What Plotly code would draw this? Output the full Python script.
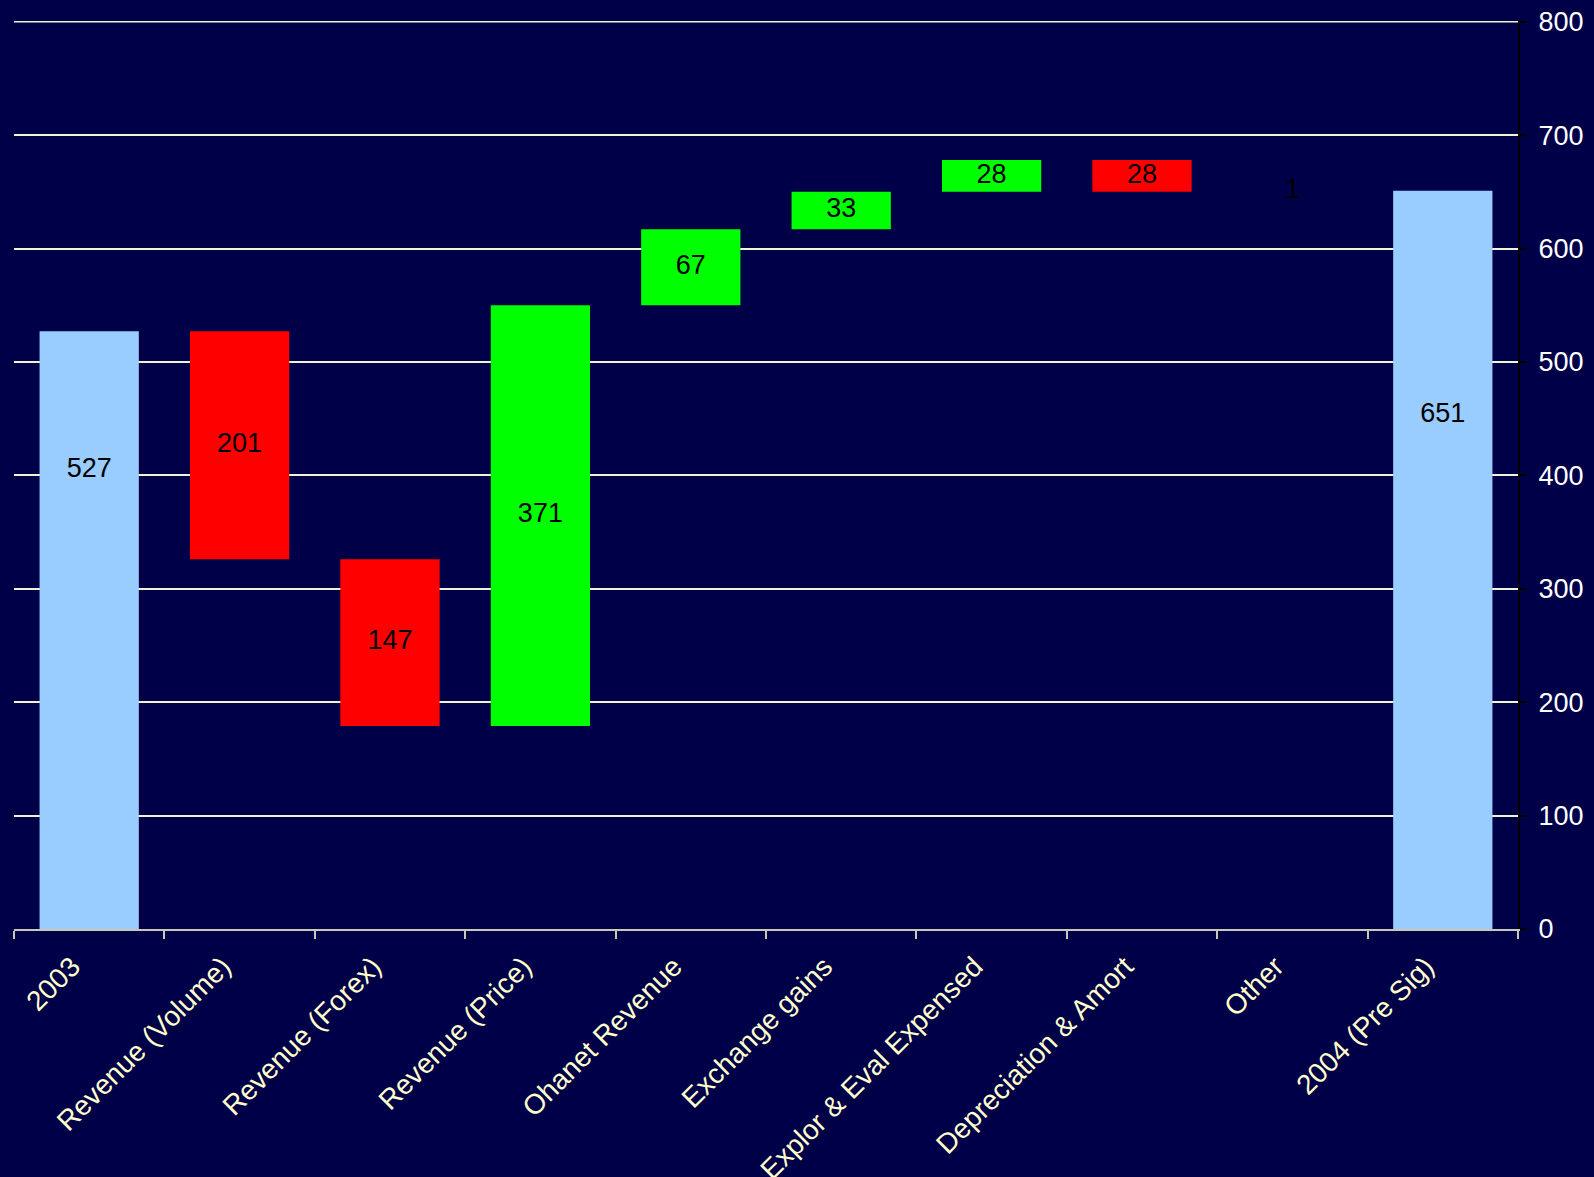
import plotly.graph_objects as go

# Bridge from 2003 to 2004 (pre Sig)
categories = [
    "2003", "Revenue (Volume)", "Revenue (Forex)", "Revenue (Price)",
    "Ohanet Revenue", "Exchange gains", "Explor & Eval Expensed",
    "Depreciation & Amort", "Other", "2004 (Pre Sig)",
]
changes = [527, -201, -147, 371, 67, 33, 28, -28, 1, 651]
measures = ["total", "relative", "relative", "relative", "relative",
            "relative", "relative", "relative", "relative", "total"]
y_ticks = [0, 100, 200, 300, 400, 500, 600, 700, 800]

# Vertical placement of the labels on the two total bars (fraction of bar height)
TOTAL_LABEL_FRACTION = {"2003": 0.767, "2004 (Pre Sig)": 0.696}

TOTAL_COLOR = "#99CCFF"
UP_COLOR = "#00FF00"
DOWN_COLOR = "#FF0000"
BG = "#000048"
GRID = "#F2F2D4"
AXIS = "#C8C8B4"
CREAM = "#FFFFCC"
FONT = "Liberation Sans, Arial, sans-serif"

bases, heights, colors, label_y, labels = [], [], [], [], []
running = 0
for cat, value, kind in zip(categories, changes, measures):
    if kind == "total":
        base, height, color = 0, value, TOTAL_COLOR
        running = value
    else:
        base = min(running, running + value)
        height = abs(value)
        color = UP_COLOR if value >= 0 else DOWN_COLOR
        running += value
    # a one-unit step is too thin to show as a bar; only its label is drawn
    if height < 2:
        color = BG
    bases.append(base)
    heights.append(height)
    colors.append(color)
    label_y.append(base + height * TOTAL_LABEL_FRACTION.get(cat, 0.5))
    labels.append(str(abs(value)))

fig = go.Figure()
fig.add_trace(go.Bar(
    x=categories, y=heights, base=bases,
    marker=dict(color=colors, line=dict(width=0)),
    hoverinfo="skip", showlegend=False,
))
fig.add_trace(go.Scatter(
    x=categories, y=label_y, text=labels, mode="text",
    textposition="middle center",
    textfont=dict(family=FONT, size=27, color="#000000"),
    hoverinfo="skip", showlegend=False,
))

# gridline at the top of the value range (sits on the plot edge)
fig.add_hline(y=y_ticks[-1], line=dict(color=GRID, width=1.5), layer="below")

fig.update_layout(
    width=1594, height=1177,
    margin=dict(l=14, r=76, t=21, b=248),
    paper_bgcolor=BG, plot_bgcolor=BG,
    bargap=0.34,
    font=dict(family=FONT),
    xaxis=dict(
        type="category",
        automargin=False,
        tickangle=-45,
        tickson="boundaries",
        ticks="outside", ticklen=8, tickcolor=AXIS, tickwidth=1.5,
        showline=True, linecolor=AXIS, linewidth=2,
        showgrid=False,
        ticklabelshift=-17,
        ticklabelstandoff=8,
        tickfont=dict(size=28, color=CREAM),
    ),
    yaxis=dict(
        side="right",
        automargin=False,
        range=[0, 800.6],
        tickvals=y_ticks,
        showgrid=True, gridcolor=GRID, gridwidth=1.5,
        zeroline=False,
        showline=True, linecolor="#000000", linewidth=2,
        ticks="outside", ticklen=7, tickcolor="#000000", tickwidth=1.5,
        ticklabelstandoff=6,
        tickfont=dict(size=27, color="#FFFFFF"),
    ),
)

fig.write_html("out.html")
